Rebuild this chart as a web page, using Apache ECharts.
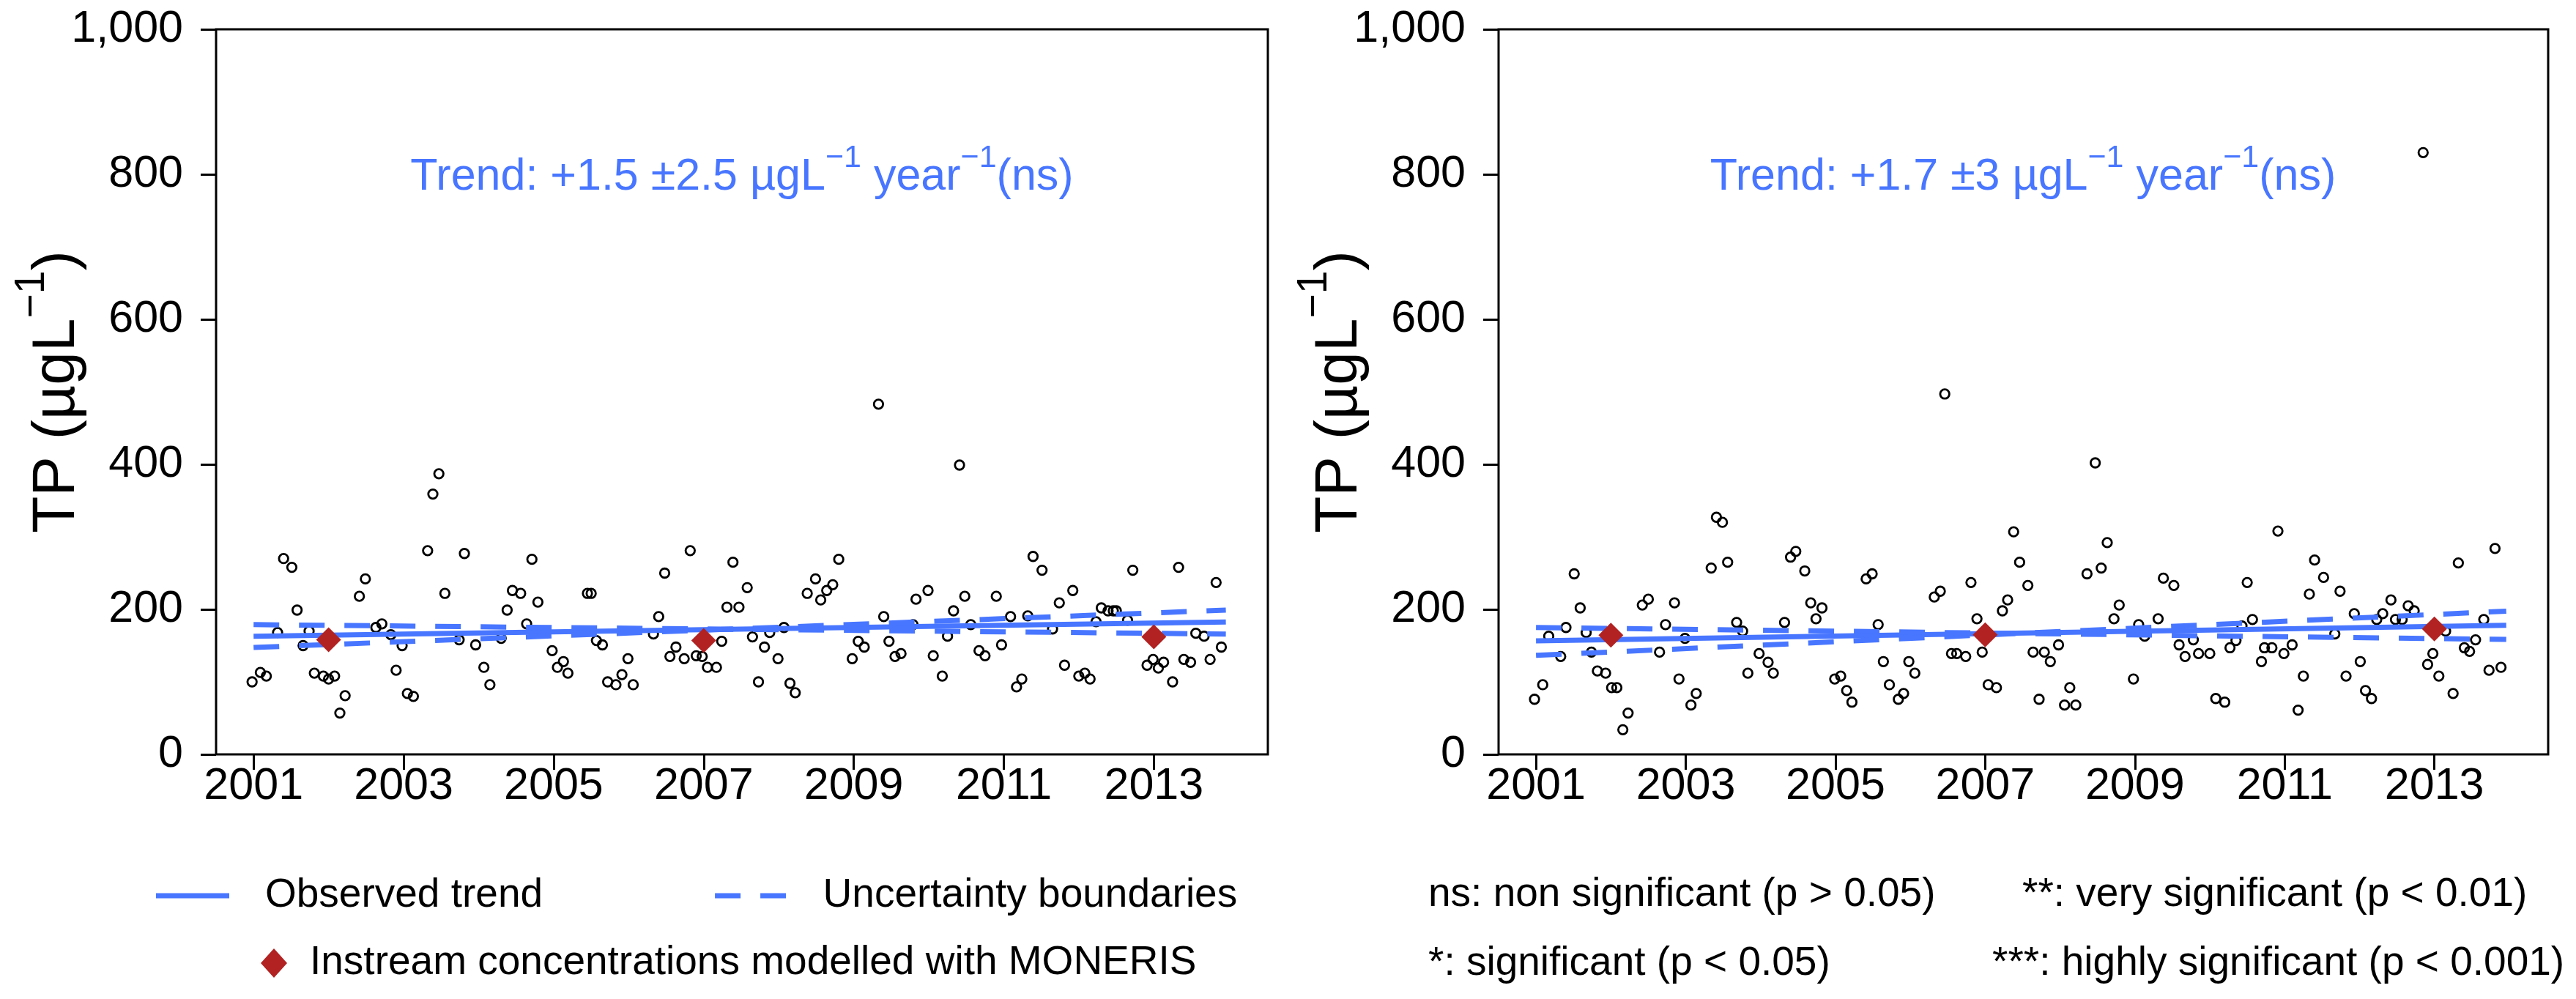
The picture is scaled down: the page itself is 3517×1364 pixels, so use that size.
<!DOCTYPE html>
<html><head><meta charset="utf-8">
<script src="https://cdn.jsdelivr.net/npm/echarts@6/dist/echarts.min.js"></script>
<style>html,body{margin:0;padding:0;background:#fff}#c{width:3517px;height:1364px}</style>
</head><body><div id="c"></div>
<script>
const FONT = '"Liberation Sans", Arial, Helvetica, sans-serif';
const BLUE = '#4876FF';
const RED = '#B22222';

// ---------- data ----------
const xTickYears = [2001, 2003, 2005, 2007, 2009, 2011, 2013];

const leftObsYear = [2000.98,2001.09,2001.17,2001.32,2001.40,2001.51,2001.58,2001.66,2001.74,2001.81,2001.93,2002.00,2002.08,2002.15,2002.22,2002.41,2002.49,2002.63,2002.71,2002.83,2002.90,2002.98,2003.05,2003.13,2003.32,2003.39,2003.47,2003.55,2003.74,2003.81,2003.96,2004.07,2004.15,2004.30,2004.38,2004.45,2004.56,2004.64,2004.71,2004.79,2004.98,2005.05,2005.13,2005.19,2005.45,2005.50,2005.57,2005.65,2005.72,2005.83,2005.91,2005.99,2006.06,2006.33,2006.40,2006.48,2006.55,2006.63,2006.74,2006.82,2006.90,2006.98,2007.05,2007.17,2007.24,2007.31,2007.39,2007.47,2007.58,2007.65,2007.73,2007.81,2007.88,2007.99,2008.07,2008.15,2008.22,2008.38,2008.49,2008.56,2008.64,2008.72,2008.80,2008.98,2009.06,2009.14,2009.33,2009.40,2009.47,2009.55,2009.63,2009.79,2009.83,2009.99,2010.06,2010.18,2010.25,2010.33,2010.41,2010.48,2010.56,2010.67,2010.75,2010.90,2010.97,2011.09,2011.17,2011.24,2011.32,2011.39,2011.51,2011.65,2011.74,2011.81,2011.92,2012.00,2012.08,2012.15,2012.23,2012.30,2012.39,2012.46,2012.50,2012.65,2012.72,2012.91,2012.99,2013.06,2013.13,2013.25,2013.33,2013.40,2013.49,2013.56,2013.67,2013.75,2013.83,2013.90];
const leftObsTP = [100,113,108,168,270,258,199,150,170,112,108,104,108,57,81,218,242,175,180,165,116,150,84,80,281,359,387,222,158,277,151,120,96,160,199,226,222,180,269,210,143,120,128,112,222,222,157,151,100,96,110,132,96,166,190,250,135,148,132,281,136,135,120,120,156,203,265,203,230,162,100,148,168,132,175,98,85,222,242,213,226,234,269,132,156,148,483,190,156,135,139,179,214,226,136,108,163,198,399,218,179,143,136,218,151,190,93,104,191,273,254,173,209,123,226,108,112,104,183,202,198,198,198,185,254,123,131,119,127,100,258,131,127,167,163,131,237,148];

const rightObsYear = [2000.98,2001.09,2001.17,2001.33,2001.40,2001.51,2001.59,2001.67,2001.74,2001.82,2001.93,2002.01,2002.08,2002.16,2002.23,2002.42,2002.50,2002.65,2002.73,2002.85,2002.91,2002.99,2003.07,2003.14,2003.34,2003.41,2003.49,2003.56,2003.68,2003.76,2003.83,2003.98,2004.10,2004.17,2004.32,2004.40,2004.47,2004.59,2004.67,2004.74,2004.82,2004.99,2005.07,2005.15,2005.22,2005.41,2005.49,2005.57,2005.64,2005.72,2005.84,2005.91,2005.98,2006.06,2006.32,2006.40,2006.46,2006.55,2006.62,2006.74,2006.81,2006.89,2006.96,2007.04,2007.15,2007.23,2007.30,2007.38,2007.46,2007.57,2007.64,2007.72,2007.79,2007.87,2007.98,2008.06,2008.13,2008.21,2008.36,2008.47,2008.55,2008.63,2008.72,2008.79,2008.98,2009.05,2009.13,2009.31,2009.38,2009.52,2009.59,2009.67,2009.78,2009.85,2010.00,2010.08,2010.20,2010.27,2010.35,2010.43,2010.50,2010.57,2010.69,2010.73,2010.83,2010.91,2010.99,2011.10,2011.18,2011.25,2011.33,2011.40,2011.52,2011.67,2011.74,2011.82,2011.93,2012.01,2012.08,2012.16,2012.23,2012.31,2012.42,2012.48,2012.57,2012.65,2012.73,2012.85,2012.91,2012.98,2013.06,2013.15,2013.25,2013.32,2013.40,2013.47,2013.55,2013.66,2013.73,2013.81,2013.89];
const rightObsTP = [76,96,163,135,175,249,202,168,141,115,112,92,92,34,57,206,214,141,179,209,104,160,68,84,257,327,320,265,182,170,112,139,127,112,182,272,280,253,209,187,202,104,108,88,72,242,249,179,128,96,76,84,128,112,217,225,497,139,139,135,237,187,141,96,92,198,213,307,265,233,141,76,141,128,151,68,92,68,249,402,257,292,187,206,104,179,163,187,243,233,151,135,158,139,139,77,72,147,157,177,237,186,128,147,147,308,139,151,61,108,221,268,244,166,225,108,194,128,88,77,186,194,213,186,186,205,198,830,124,139,108,170,84,264,147,142,158,186,116,284,120];

const trendYears = [2001.0, 2013.96];
const leftTrend = [163, 182.5];
const leftUpper = [147.5, 199];
const leftLower = [179, 166];
const rightTrend = [156.5, 178];
const rightUpper = [136.5, 197.5];
const rightLower = [175, 158.5];

const monerisYears = [2002, 2007, 2013];
const leftMoneris = [158, 157, 162];
const rightMoneris = [164.5, 165, 173];

const leftTrendLabel = ['Trend: +1.5 \u00B12.5 \u00B5gL', '\u22121', ' year', '\u22121', '(ns)'];
const rightTrendLabel = ['Trend: +1.7 \u00B13 \u00B5gL', '\u22121', ' year', '\u22121', '(ns)'];
const yTitleParts = ['TP (\u00B5gL', '\u22121', ')'];
const sigNotes = ['ns: non significant (p > 0.05)', '**: very significant (p < 0.01)', '*: significant (p < 0.05)', '***: highly significant (p < 0.001)'];

// ---------- helpers ----------
const pairs = (xs, ys) => xs.map((x, i) => [x, ys[i]]);

const grids = [
  {left: 295, top: 40, width: 1436, height: 990},
  {left: 2046, top: 40, width: 1433, height: 990}
];

function xAxisFor(i) {
  return {
    type: 'value', gridIndex: i, min: 2000.5, max: 2014.52,
    axisLine: {show: false},
    splitLine: {show: false},
    axisTick: {show: true, length: 21, inside: false, customValues: xTickYears, lineStyle: {color: '#000', width: 3}},
    axisLabel: {show: true, customValues: xTickYears, margin: 14, fontSize: 61, fontFamily: FONT, color: '#000', formatter: v => String(v)}
  };
}
function yAxisFor(i) {
  return {
    type: 'value', gridIndex: i, min: 0, max: 1000, interval: 200,
    axisLine: {show: false},
    splitLine: {show: false},
    axisTick: {show: true, length: 21, inside: false, lineStyle: {color: '#000', width: 3}},
    axisLabel: {show: true, margin: 45, fontSize: 61, fontFamily: FONT, color: '#000'}
  };
}

function panelSeries(i, obsX, obsY, tr, up, lo, mon) {
  const common = {xAxisIndex: i, yAxisIndex: i, silent: true, animation: false, emphasis: {disabled: true}};
  return [
    Object.assign({}, common, {
      type: 'scatter', name: 'Observed', data: pairs(obsX, obsY), symbol: 'circle', symbolSize: 12.5, z: 2,
      itemStyle: {color: 'rgba(0,0,0,0)', borderColor: '#000', borderWidth: 2.8, opacity: 1}
    }),
    Object.assign({}, common, {
      type: 'line', name: 'Observed trend', data: pairs(trendYears, tr), symbol: 'none', z: 3,
      lineStyle: {color: BLUE, width: 7, type: 'solid', cap: 'butt'}, itemStyle: {color: BLUE}
    }),
    Object.assign({}, common, {
      type: 'line', name: 'Uncertainty boundaries', data: pairs(trendYears, up), symbol: 'none', z: 3,
      lineStyle: {color: BLUE, width: 7, type: [35, 27], cap: 'butt'}, itemStyle: {color: BLUE}
    }),
    Object.assign({}, common, {
      type: 'line', name: 'Uncertainty boundaries', data: pairs(trendYears, lo), symbol: 'none', z: 3,
      lineStyle: {color: BLUE, width: 7, type: [35, 27], cap: 'butt'}, itemStyle: {color: BLUE}
    }),
    Object.assign({}, common, {
      type: 'scatter', name: 'Instream concentrations modelled with MONERIS', data: pairs(monerisYears, mon),
      symbol: 'diamond', symbolSize: [34, 34], z: 4, itemStyle: {color: RED, opacity: 1}
    })
  ];
}

function supText(parts, mainSize, supSize, pad, color) {
  const text = parts.map((p, k) => (k % 2 === 0 ? '{m|' : '{s|') + p + '}').join('');
  return {
    text: text,
    rich: {
      m: {fontSize: mainSize, fontFamily: FONT, fill: color},
      s: {fontSize: supSize, fontFamily: FONT, fill: color, padding: [0, 0, pad, 0]}
    },
    fill: color, fontSize: mainSize, fontFamily: FONT,
    align: 'center', verticalAlign: 'middle', textAlign: 'center', textVerticalAlign: 'middle'
  };
}

function plainText(t, x, y) {
  return {
    type: 'text', x: x, y: y, silent: true,
    style: {text: t, fontSize: 55, fontFamily: FONT, fill: '#000', align: 'left', verticalAlign: 'middle', textAlign: 'left', textVerticalAlign: 'middle'}
  };
}

const graphics = [
  {type: 'text', x: 78, y: 535, rotation: Math.PI / 2, silent: true, style: supText(yTitleParts, 82, 57, 68, '#000')},
  {type: 'text', x: 1829, y: 535, rotation: Math.PI / 2, silent: true, style: supText(yTitleParts, 82, 57, 68, '#000')},
  {type: 'text', x: 1013, y: 242, silent: true, style: supText(leftTrendLabel, 61, 43, 51, BLUE)},
  {type: 'text', x: 2762, y: 242, silent: true, style: supText(rightTrendLabel, 61, 43, 51, BLUE)},
  plainText(sigNotes[0], 1950, 1222),
  plainText(sigNotes[1], 2761, 1222),
  plainText(sigNotes[2], 1950, 1316),
  plainText(sigNotes[3], 2720, 1316)
];

const legendText = {fontSize: 55, fontFamily: FONT, color: '#000', lineHeight: 60};

const option = {
  animation: false,
  backgroundColor: '#fff',
  grid: grids.map(g => Object.assign({show: true, borderColor: '#000', borderWidth: 3, backgroundColor: 'transparent', containLabel: false}, g)),
  xAxis: [xAxisFor(0), xAxisFor(1)],
  yAxis: [yAxisFor(0), yAxisFor(1)],
  legend: [
    {
      data: [
        {name: 'Observed trend', icon: 'rect'},
        {name: 'Uncertainty boundaries', icon: 'path://M0,0h35v7h-35z M62,0h35v7h-35z'}
      ],
      left: 213, top: 1193, orient: 'horizontal',
      itemWidth: 100, itemHeight: 7, itemGap: 235, padding: 0, selectedMode: false,
      itemStyle: {color: BLUE, borderWidth: 0, opacity: 1},
      textStyle: Object.assign({padding: [0, 0, 0, 44]}, legendText)
    },
    {
      data: ['Instream concentrations modelled with MONERIS'], left: 356, top: 1285, orient: 'horizontal',
      itemWidth: 36, itemHeight: 40, padding: 0, selectedMode: false,
      itemStyle: {color: RED, opacity: 1},
      textStyle: Object.assign({padding: [0, 0, 0, 26]}, legendText)
    }
  ],
  graphic: graphics,
  series: [].concat(
    panelSeries(0, leftObsYear, leftObsTP, leftTrend, leftUpper, leftLower, leftMoneris),
    panelSeries(1, rightObsYear, rightObsTP, rightTrend, rightUpper, rightLower, rightMoneris)
  )
};

const chart = echarts.init(document.getElementById('c'), null, {renderer: 'canvas'});
chart.setOption(option);
</script>
</body></html>
